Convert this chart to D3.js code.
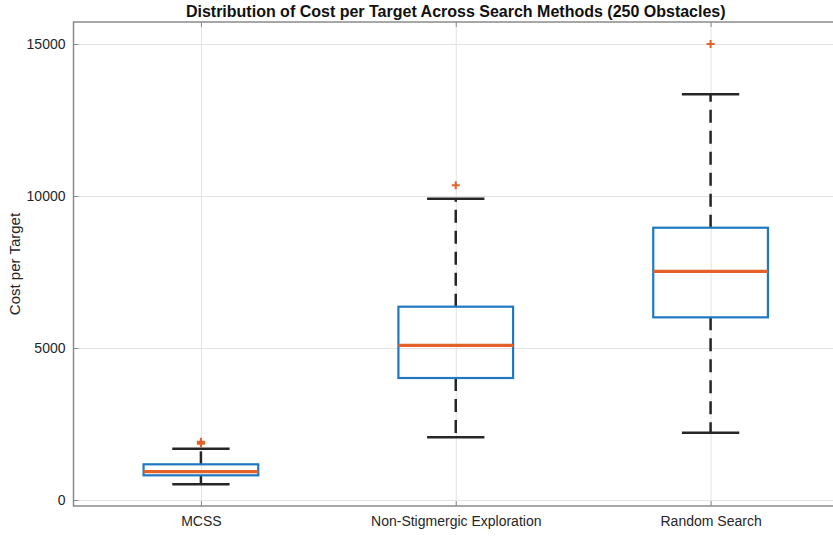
<!DOCTYPE html>
<html>
<head>
<meta charset="utf-8">
<script src="https://cdn.jsdelivr.net/npm/d3@7"></script>
<style>
  body { margin: 0; background: #fff; }
  svg { display: block; font-family: "Liberation Sans", Arial, sans-serif; }
</style>
</head>
<body>
<svg id="chart" width="833" height="537"></svg>
<script>
// box statistics
var categories = ["MCSS", "Non-Stigmergic Exploration", "Random Search"];
var lowerWhisker = [516, 2062, 2215];
var q1 = [812, 4013, 6009];
var median = [931, 5088, 7522];
var q3 = [1174, 6359, 8957];
var upperWhisker = [1688, 9912, 13345];
var outliers = [[1850, 1880, 1920], [10351], [15000]];
var yTicks = [0, 5000, 10000, 15000];

var plotLeft = 73.5, plotRight = 838, plotTop = 22, plotBottom = 506;
var plotW = plotRight - plotLeft, plotH = plotBottom - plotTop;

var svg = d3.select("#chart");

var x = d3.scalePoint()
    .domain(categories)
    .range([plotLeft, plotRight])
    .padding(0.5);

var y = d3.scaleLinear()
    .domain([-197, 15724])
    .range([plotBottom, plotTop]);

var boxHalf = x.step() * 0.225;
var capHalf = boxHalf / 2;

// grid
svg.append("g")
    .attr("transform", "translate(" + plotLeft + ",0)")
    .call(d3.axisLeft(y).tickValues(yTicks).tickSize(-plotW).tickFormat(""))
    .call(g => g.select(".domain").remove())
    .selectAll("line").attr("stroke", "#e3e3e3").attr("stroke-width", 1);

svg.append("g")
    .attr("transform", "translate(0," + plotBottom + ")")
    .call(d3.axisBottom(x).tickSize(-plotH).tickFormat(""))
    .call(g => g.select(".domain").remove())
    .selectAll("line").attr("stroke", "#e3e3e3").attr("stroke-width", 1);

// boxes
var g = svg.selectAll(".box")
    .data(categories)
    .enter().append("g")
    .attr("class", "box");

g.append("line")
    .attr("x1", d => x(d)).attr("x2", d => x(d))
    .attr("y1", (d, i) => y(q3[i])).attr("y2", (d, i) => y(upperWhisker[i]))
    .attr("stroke", "#262626").attr("stroke-width", 2.5)
    .attr("stroke-dasharray", "13,8");

g.append("line")
    .attr("x1", d => x(d)).attr("x2", d => x(d))
    .attr("y1", (d, i) => y(q1[i])).attr("y2", (d, i) => y(lowerWhisker[i]))
    .attr("stroke", "#262626").attr("stroke-width", 2.5)
    .attr("stroke-dasharray", "13,8");

g.append("line")
    .attr("x1", d => x(d) - capHalf).attr("x2", d => x(d) + capHalf)
    .attr("y1", (d, i) => y(upperWhisker[i])).attr("y2", (d, i) => y(upperWhisker[i]))
    .attr("stroke", "#262626").attr("stroke-width", 2.5);

g.append("line")
    .attr("x1", d => x(d) - capHalf).attr("x2", d => x(d) + capHalf)
    .attr("y1", (d, i) => y(lowerWhisker[i])).attr("y2", (d, i) => y(lowerWhisker[i]))
    .attr("stroke", "#262626").attr("stroke-width", 2.5);

g.append("rect")
    .attr("x", d => x(d) - boxHalf)
    .attr("width", boxHalf * 2)
    .attr("y", (d, i) => y(q3[i]))
    .attr("height", (d, i) => y(q1[i]) - y(q3[i]))
    .attr("fill", "none")
    .attr("stroke", "#1f78c1").attr("stroke-width", 2.2);

g.append("line")
    .attr("x1", d => x(d) - boxHalf).attr("x2", d => x(d) + boxHalf)
    .attr("y1", (d, i) => y(median[i])).attr("y2", (d, i) => y(median[i]))
    .attr("stroke", "#e4612a").attr("stroke-width", 3.2);

// outliers
categories.forEach(function (c, i) {
    outliers[i].forEach(function (v) {
        svg.append("path")
            .attr("d", "M-4,0H4M0,-4V4")
            .attr("transform", "translate(" + x(c) + "," + y(v) + ")")
            .attr("stroke", "#e4612a").attr("stroke-width", 2);
    });
});

// axes frame
svg.append("rect")
    .attr("x", plotLeft).attr("y", plotTop)
    .attr("width", plotW).attr("height", plotH)
    .attr("fill", "none").attr("stroke", "#8a8a8a").attr("stroke-width", 1.5);

var yAxis = svg.append("g")
    .attr("transform", "translate(" + plotLeft + ",0)")
    .call(d3.axisLeft(y).tickValues(yTicks).tickSize(-5).tickPadding(8).tickFormat(d3.format("d")));
yAxis.select(".domain").remove();
yAxis.selectAll("line").attr("stroke", "#8a8a8a");
yAxis.selectAll("text").attr("fill", "#262626").style("font-size", "14px");

var yAxisR = svg.append("g")
    .attr("transform", "translate(" + plotRight + ",0)")
    .call(d3.axisRight(y).tickValues(yTicks).tickSize(-5).tickFormat(""));
yAxisR.select(".domain").remove();
yAxisR.selectAll("line").attr("stroke", "#8a8a8a");

var xAxis = svg.append("g")
    .attr("transform", "translate(0," + plotBottom + ")")
    .call(d3.axisBottom(x).tickSize(-5).tickPadding(10));
xAxis.select(".domain").remove();
xAxis.selectAll("line").attr("stroke", "#8a8a8a");
xAxis.selectAll("text").attr("fill", "#262626").style("font-size", "14px");

var xAxisT = svg.append("g")
    .attr("transform", "translate(0," + plotTop + ")")
    .call(d3.axisTop(x).tickSize(-5).tickFormat(""));
xAxisT.select(".domain").remove();
xAxisT.selectAll("line").attr("stroke", "#8a8a8a");

// labels
svg.append("text")
    .attr("x", (plotLeft + plotRight) / 2).attr("y", 17)
    .attr("text-anchor", "middle")
    .attr("font-weight", "bold").attr("font-size", "16px")
    .attr("fill", "#111")
    .text("Distribution of Cost per Target Across Search Methods (250 Obstacles)");

svg.append("text")
    .attr("transform", "translate(20," + (plotTop + plotBottom) / 2 + ") rotate(-90)")
    .attr("text-anchor", "middle")
    .attr("font-size", "15px")
    .attr("fill", "#262626")
    .text("Cost per Target");
</script>
</body>
</html>
